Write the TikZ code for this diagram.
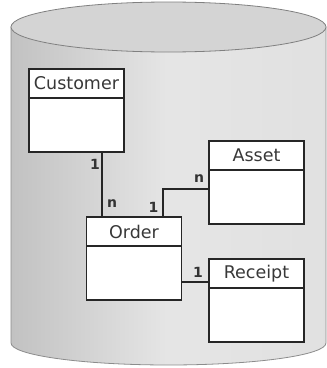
\documentclass[tikz,border=0pt]{standalone}
\usepackage{fontspec}
\setmainfont{DejaVu Sans}
\begin{document}
\begin{tikzpicture}[x=1pt,y=1pt,
  hdr/.style={draw=black!85,line width=1.3pt,fill=white,minimum width=95pt,minimum height=29pt,inner sep=0pt,outer sep=0pt,text=black!78,font=\fontsize{17.5}{19}\selectfont},
  bdy/.style={draw=black!85,line width=1.3pt,fill=white,minimum width=95pt,minimum height=54pt,inner sep=0pt,outer sep=0pt},
  conn/.style={draw=black!85,line width=1.3pt},
  mult/.style={inner sep=0pt,text=black!80,font=\fontsize{14}{15}\selectfont\bfseries}]
\useasboundingbox (0,0) rectangle (327,368);
% cylinder
\path[left color=black!24,right color=black!12,middle color=black!10,draw=black!45,line width=0.8pt]
  (11,341) -- (11,25) arc[start angle=180,end angle=360,x radius=157.5,y radius=22] -- (326,341) -- cycle;
\path[fill=black!17,draw=black!50,line width=0.8pt] (168.5,341) ellipse[x radius=157.5,y radius=25];
% classes
\node[hdr,anchor=north west] (custh) at (29,299) {Customer};
\node[bdy,anchor=north] (custb) at (custh.south) {};
\node[hdr,anchor=north west] (asseth) at (209,227) {Asset};
\node[bdy,anchor=north] (assetb) at (asseth.south) {};
\node[hdr,anchor=north west] (ordh) at (86.5,151) {Order};
\node[bdy,anchor=north] (ordb) at (ordh.south) {};
\node[hdr,anchor=north west] (rech) at (209,109) {Receipt};
\node[bdy,anchor=north] (recb) at (rech.south) {};
% connectors
\coordinate (c1) at (102,0);
\draw[conn] (custb.south -| c1) -- (ordh.north -| c1);
\coordinate (c2) at (163,179);
\draw[conn] (ordh.north -| c2) |- (assetb.west |- c2);
\coordinate (c3) at (0,86);
\draw[conn] (ordb.east |- c3) -- (rech.west |- c3);
% multiplicities
\node[mult] (m1) at (95,204) {1};
\node[mult] (m2) at (112,164) {n};
\node[mult] (m3) at (199,189) {n};
\node[mult] (m4) at (153.5,161) {1};
\node[mult] (m5) at (198,96) {1};
\end{tikzpicture}
\end{document}
